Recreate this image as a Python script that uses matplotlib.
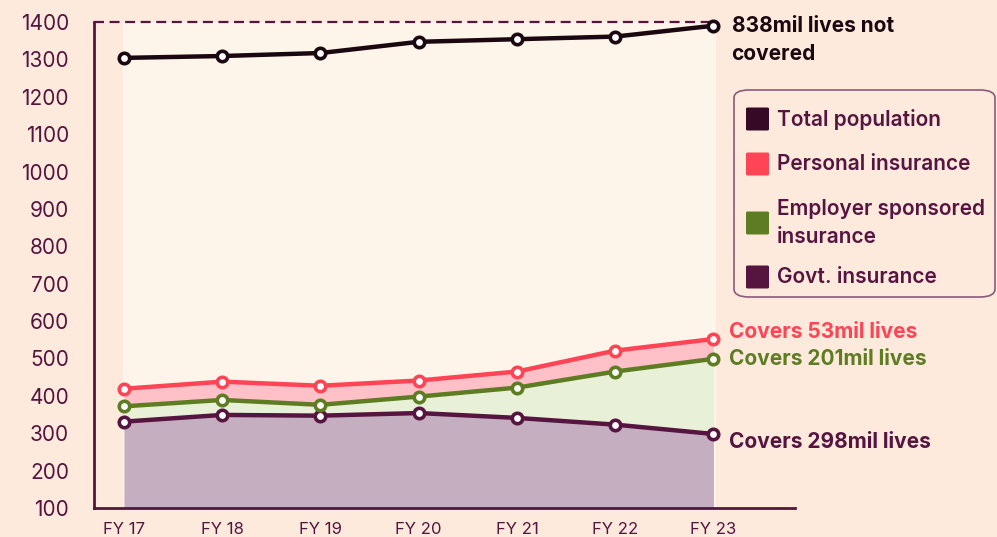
import matplotlib.pyplot as plt
from matplotlib.patches import FancyBboxPatch, Rectangle

# coverage in millions of lives, stacked (each series is a running total)
years = ["FY 17", "FY 18", "FY 19", "FY 20", "FY 21", "FY 22", "FY 23"]
total_pop = [1304, 1309, 1317, 1347, 1354, 1361, 1390]
personal = [419, 438, 427, 441, 465, 521, 552]
employer = [372, 389, 376, 398, 422, 465, 499]
govt = [331, 349, 347, 354, 341, 323, 298]
y_ticks = [100, 200, 300, 400, 500, 600, 700, 800, 900, 1000, 1100, 1200, 1300, 1400]

BG = "#FDEADC"
BAND = "#FDF4EA"
PLUM = "#561440"
INK = "#1A0710"
RED = "#FF4456"
GREEN = "#5E7D23"

plt.rcParams["font.family"] = ["Inter", "DejaVu Sans"]

fig = plt.figure(figsize=(9.97, 5.37), dpi=100, facecolor=BG)
W, H = 997, 537


def fx(px):
    return px / W


def fy(py):
    return 1 - py / H


ax = fig.add_axes([fx(94), fy(508), fx(795) - fx(94), fy(22) - fy(508)])
ax.set_facecolor(BG)
x = list(range(len(years)))
ax.set_xlim(-0.305, 6.83)
ax.set_ylim(100, 1400)

# lighter band behind the data range
ax.add_patch(Rectangle((x[0] - 0.01, 100), x[-1] - x[0] + 0.04, 1300,
                       facecolor=BAND, edgecolor="none", zorder=0))

ax.fill_between(x, 100, govt, color="#C4AEC0", lw=0, zorder=1)
ax.fill_between(x, govt, employer, color="#E8F1D8", lw=0, zorder=1)
ax.fill_between(x, employer, personal, color="#FFC0C8", lw=0, zorder=1)

ax.plot([-0.305, x[-1]], [1400, 1400], color=PLUM, lw=1.6,
        dashes=(4.5, 2.5), zorder=2, clip_on=False)

mk = dict(marker="o", ms=7.5, mew=2.6, mfc="white", lw=3.2, zorder=4,
          clip_on=False, solid_capstyle="round")
ax.plot(x, govt, color=PLUM, mec=PLUM, **mk)
ax.plot(x, employer, color=GREEN, mec=GREEN, **mk)
ax.plot(x, personal, color=RED, mec=RED, **mk)
ax.plot(x, total_pop, color=INK, mec=INK, **mk)

for s in ["top", "right"]:
    ax.spines[s].set_visible(False)
for s in ["left", "bottom"]:
    ax.spines[s].set_color(PLUM)
    ax.spines[s].set_linewidth(2)
ax.spines["left"].set_capstyle("projecting")

ax.set_yticks(y_ticks)
ax.set_yticklabels([str(v) for v in y_ticks], fontsize=15, color=PLUM)
ax.set_xticks(x)
ax.set_xticklabels(years, fontsize=12, color=PLUM)
ax.tick_params(length=0)
ax.tick_params(axis="y", pad=18)
ax.tick_params(axis="x", pad=10)

# end-of-line annotations
not_covered = total_pop[-1] - personal[-1]
ax.annotate(f"{not_covered}mil lives not\ncovered", (x[-1], total_pop[-1]),
            xytext=(13, 7), textcoords="offset points", va="top",
            fontsize=15, fontweight="bold", color=INK, linespacing=1.5)
ax.annotate(f"Covers {personal[-1] - employer[-1]}mil lives", (x[-1], personal[-1]),
            xytext=(11, 5), textcoords="offset points", va="center",
            fontsize=15, fontweight="bold", color=RED)
ax.annotate(f"Covers {employer[-1] - govt[-1]}mil lives", (x[-1], employer[-1]),
            xytext=(11, 0), textcoords="offset points", va="center",
            fontsize=15, fontweight="bold", color=GREEN)
ax.annotate(f"Covers {govt[-1]}mil lives", (x[-1], govt[-1]),
            xytext=(11, -6), textcoords="offset points", va="center",
            fontsize=15, fontweight="bold", color=PLUM)

# legend box
fig.patches.append(FancyBboxPatch((fx(734), fy(297)), fx(995) - fx(734), fy(90) - fy(297),
                                  boxstyle="round,pad=0,rounding_size=0.015",
                                  transform=fig.transFigure, facecolor=BG,
                                  edgecolor="#8A5A7A", lw=1.2))
legend_items = [("Total population", "#360A26", 119),
                ("Personal insurance", RED, 164),
                ("Employer sponsored\ninsurance", GREEN, 223),
                ("Govt. insurance", PLUM, 277)]
for label, col, cy in legend_items:
    sq = 23
    fig.patches.append(FancyBboxPatch((fx(746), fy(cy + sq / 2)), fx(sq), sq / H,
                                      boxstyle="round,pad=0,rounding_size=0.002",
                                      transform=fig.transFigure, facecolor=col,
                                      edgecolor="none"))
    fig.text(fx(777), fy(cy), label, fontsize=15, fontweight="semibold",
             color=PLUM, va="center", ha="left", linespacing=1.45)

fig.savefig("out.png", dpi=100, facecolor=BG)
